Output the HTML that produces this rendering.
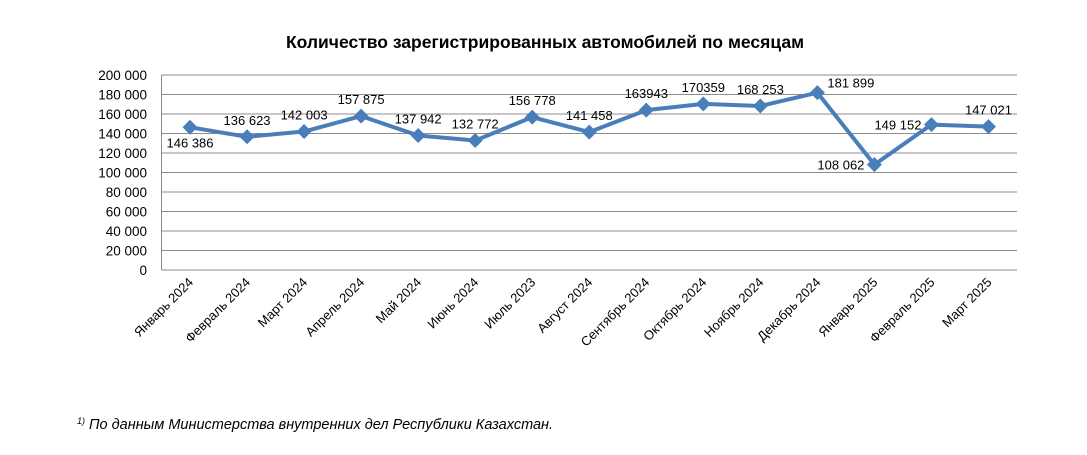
<!DOCTYPE html>
<html><head><meta charset="utf-8">
<style>
body{margin:0;background:#fff;font-family:"Liberation Sans",sans-serif;}
svg text{font-family:"Liberation Sans",sans-serif;fill:#000;}
</style></head>
<body>
<svg width="1087" height="450" xmlns="http://www.w3.org/2000/svg">
<text x="545" y="48" text-anchor="middle" font-size="17.5" font-weight="bold">Количество зарегистрированных автомобилей по месяцам</text>
<g id="grid"></g><g id="yt"></g><g id="xt"></g><g id="series"></g><g id="labels"></g>
<text x="77" y="429" font-size="14.5" font-style="italic"><tspan font-size="9" dy="-5">1)</tspan><tspan dy="5"> По данным Министерства внутренних дел Республики Казахстан.</tspan></text>
</svg>
<script>
const categories=["Январь 2024","Февраль 2024","Март 2024","Апрель 2024","Май 2024","Июнь 2024","Июль 2023","Август 2024","Сентябрь 2024","Октябрь 2024","Ноябрь 2024","Декабрь 2024","Январь 2025","Февраль 2025","Март 2025"];
const values=[146386,136623,142003,157875,137942,132772,156778,141458,163943,170359,168253,181899,108062,149152,147021];
const valueLabels=["146 386","136 623","142 003","157 875","137 942","132 772","156 778","141 458","163943","170359","168 253","181 899","108 062","149 152","147 021"];
const labelPos=["below","above","above","above","above","above","above","above","above","above","above","right","left","left","above"];
const yTicks=[0,20000,40000,60000,80000,100000,120000,140000,160000,180000,200000];
const yTickLabels=["0","20 000","40 000","60 000","80 000","100 000","120 000","140 000","160 000","180 000","200 000"];
const L=161.5,R=1017,T=75,B=270,yMax=200000;
const ns="http://www.w3.org/2000/svg";
const xS=i=>L+(R-L)/categories.length*(i+0.5);
const yS=v=>B-(B-T)*v/yMax;
function mk(t,a,p){const e=document.createElementNS(ns,t);for(const k in a)e.setAttribute(k,a[k]);p.appendChild(e);return e;}
const grid=document.getElementById('grid'),yt=document.getElementById('yt'),xt=document.getElementById('xt'),ser=document.getElementById('series'),lab=document.getElementById('labels');
yTicks.forEach((v,i)=>{
 const l=mk('line',{x1:L,x2:R,y1:yS(v),y2:yS(v),stroke:'#8c8c8c','stroke-width':1},grid);
 
 
 const t=mk('text',{x:147,y:yS(v)+5,'text-anchor':'end','font-size':13.5},yt);t.textContent=yTickLabels[i];
 
 
});
const ax=mk('line',{x1:L,x2:L,y1:T,y2:B,stroke:'#8c8c8c','stroke-width':1},grid);


categories.forEach((c,i)=>{
 const x=xS(i);
 const t=mk('text',{x:x+4,y:283,'text-anchor':'end','font-size':13,transform:`rotate(-45 ${x+4} 283)`},xt);t.textContent=c;
 
 
});
const pts=values.map((v,i)=>xS(i)+','+yS(v)).join(' ');
const pl=mk('polyline',{points:pts,fill:'none',stroke:'#4a7ebb','stroke-width':4,'stroke-linejoin':'round'},ser);


values.forEach((v,i)=>{
 const x=xS(i),y=yS(v),s=7.5;
 const d=mk('polygon',{points:`${x},${y-s} ${x+s},${y} ${x},${y+s} ${x-s},${y}`,fill:'#4a7ebb'},ser);
 
 
 let tx=x,ty=y-12,anc='middle';
 if(labelPos[i]==='below'){ty=y+20;}
 else if(labelPos[i]==='left'){tx=x-10;ty=y+5;anc='end';}
 else if(labelPos[i]==='right'){tx=x+10;ty=y-5;anc='start';}
 const t=mk('text',{x:tx,y:ty,'text-anchor':anc,'font-size':13},lab);t.textContent=valueLabels[i];
 
 
});
</script>
</body></html>
